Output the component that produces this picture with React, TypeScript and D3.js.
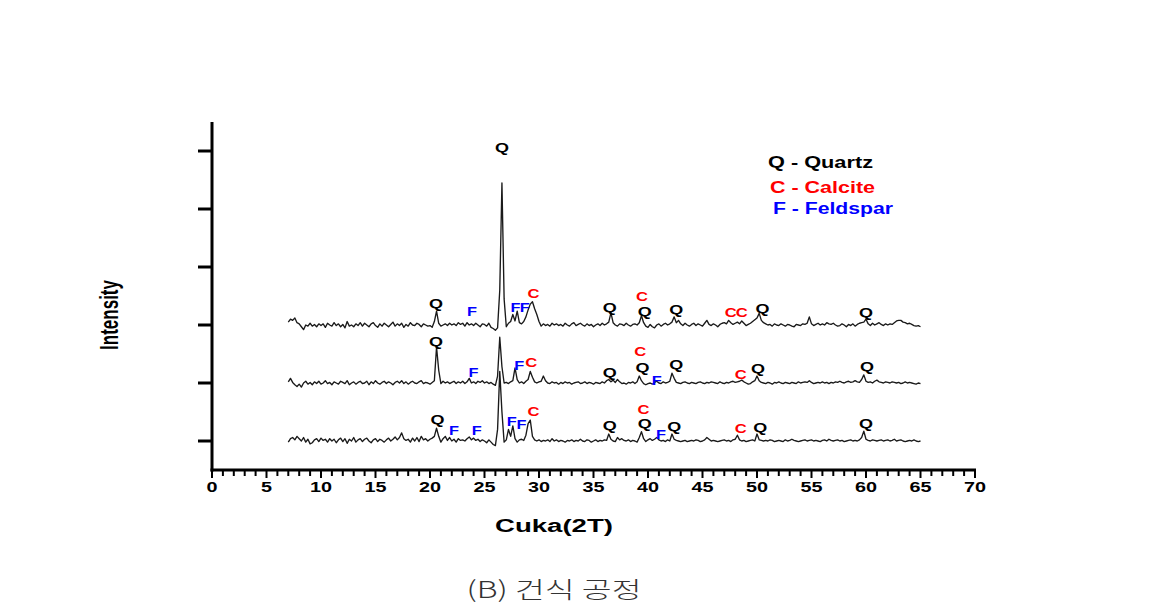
import React from 'react';
import * as d3 from 'd3';

// 2-theta scan: first angle and sampling step (degrees)
const SCAN_START = 7;
const SCAN_STEP = 0.2;

// intensities (arbitrary units, 100 = one y tick spacing), relative to each trace's baseline
const topTrace = [
  5,10,8,12,4, 2,-3,-8,0,-2, 3,-2,1,-3,2, -1,2,-4,3,0, -2,4,-1,2,-3,
  1,-5,6,-2,0, -3,2,-1,4,-2, 3,0,-3,2,4, -1,-4,2,-2,3, 0,-3,1,5,-2,
  2,-1,3,-4,1, -2,4,0,-1,3, 1,-3,2,0,-2, -1,-4,6,24,3, -2,0,2,-1,3,
  0,2,-1,4,1, 3,-2,4,0,2, -1,3,0,-3,2, 1,-2,3,-4,-6, -9,-5,60,245,45,
  -3,3,6,18,7, 24,4,2,6,14, 26,36,40,28,18, 6,-2,2,-1,1, -2,3,0,2,-1,
  1,-2,3,0,-2, 2,4,-1,1,3, 0,-2,2,-1,1, -3,0,2,-1,3, 0,2,5,21,4,
  0,-2,2,1,-1, 3,0,-2,1,2, 0,4,16,4,-2, -4,1,-3,-5,0, 2,-2,1,3,0,
  2,5,14,4,8, 2,-1,3,0,-2, 1,3,-1,2,0, -2,3,8,1,-1, 2,0,-3,1,3,
  4,2,8,4,1, 3,5,2,7,3, -1,1,3,6,9, 12,20,8,4,2, 0,1,-2,2,0,
  -1,2,0,-2,1, 0,-2,-3,1,0, -1,2,1,3,14, 2,-1,1,3,0, 2,0,4,2,1,
  3,0,-2,-1,2, 0,-3,1,-1,2, -2,1,3,4,5, 10,2,-1,3,0, 2,4,1,-1,2,
  0,2,1,4,7, 8,8,5,4,2, 3,1,-1,-2,-1, -3,
];
const midTrace = [
  2,8,1,-3,-6, -2,-7,0,3,-2, 1,-3,2,-1,3, -2,0,4,-1,1, -3,2,0,-2,3,
  1,-1,4,-3,0, 2,-2,1,3,-1, 0,3,-3,2,-1, 4,0,-2,1,3, -1,2,0,-3,1,
  3,0,4,-1,2, -2,1,3,0,-1, 2,4,-1,1,0, -2,1,4,62,22, -1,3,0,2,-1,
  1,3,-1,2,0, 3,-1,2,8,0, 2,-1,3,1,4, 0,2,-1,1,-2, -4,12,79,28,0,
  1,-1,2,4,26, 6,0,2,-1,3, 6,20,10,2,0, 2,3,12,4,0, -1,2,0,1,-2,
  1,-1,2,0,1, -2,0,1,2,-1, 0,2,-1,1,0, -2,1,0,-1,2, 0,4,6,2,5,
  1,6,2,-1,0, -2,1,0,2,-1, 2,12,4,-1,-3, -1,0,-2,1,3, 0,-1,2,0,1,
  3,17,8,1,0, -1,1,2,0,-1, 1,0,-1,1,2, 0,-1,1,0,2, 1,0,-1,2,0,
  -1,1,0,2,3, 1,2,3,5,2, 0,-2,-1,2,4, 12,4,1,0,-1, 1,0,-2,1,0,
  2,0,-1,1,0, -1,1,0,-1,2, 0,1,2,1,4, 1,-1,0,1,0, 2,0,1,-1,1,
  0,2,1,3,1, 0,2,3,1,2, 4,2,1,6,14, 3,1,2,0,3, 5,2,1,0,2,
  1,0,2,1,0, 1,-1,0,2,0, 1,0,-1,-2,0, -1,
];
const botTrace = [
  -2,4,6,2,8, 4,0,6,-2,3, -5,-3,2,4,-1, 5,1,3,-2,4, 0,3,-3,2,5,
  -1,4,-4,3,0, 6,-2,2,4,-1, 3,5,0,-3,2, 4,-1,3,1,-2, 2,5,0,3,7,
  2,6,14,4,1, 3,-2,5,0,6, -1,8,2,4,0, 3,5,8,22,8, -2,4,8,1,6,
  0,3,-2,4,1, 2,0,4,7,2, 5,1,3,-1,2, 0,-3,2,-2,-6, -8,20,120,50,-2,
  2,20,8,26,4, -2,2,3,1,10, 30,36,8,2,0, 2,-1,1,0,2, -1,4,0,2,-1,
  1,0,-2,1,0, 2,-1,1,0,3, 0,-1,2,1,-2, 0,2,-1,1,0, 2,1,12,3,0,
  -1,6,2,4,1, 0,2,-1,1,0, -2,6,16,4,-1, 2,4,1,3,6, 2,0,1,-1,2,
  0,12,3,1,0, -1,0,1,-1,0, 1,0,2,1,-1, 0,2,6,3,0, 1,0,-1,0,1,
  2,0,1,-1,2, 3,10,2,0,1, -1,0,1,2,0, 12,2,1,0,1, 0,2,1,-1,0,
  1,0,-1,2,0, 1,3,1,0,-1, 0,1,2,0,1, 2,0,1,0,-1, 1,2,0,3,1,
  0,1,2,0,1, -1,0,1,2,0, 1,0,2,6,17, 3,1,0,2,1, 0,1,2,0,1,
  2,0,1,3,0, 1,2,0,-1,0, 1,0,2,0,-1, 0,
];
const traces = [topTrace, midTrace, botTrace];
const traceOffsets = [250, 150, 50];

const xMinorTicks = d3.range(0, 71, 1);
const xMajorTicks = [0, 5, 10, 15, 20, 25, 30, 35, 40, 45, 50, 55, 60, 65, 70];
const yTicks = [50, 150, 250, 350, 450, 550];

// peak labels: [2theta, intensity position, phase]
const peakLabels: [number, number, string][] = [
  [26.6, 557, 'Q'],
  [20.55, 288, 'Q'], [23.85, 274, 'F'], [27.85, 281, 'F'], [28.7, 281, 'F'], [29.5, 305, 'C'],
  [36.5, 281, 'Q'], [39.45, 300, 'C'], [39.7, 274, 'Q'], [42.6, 278, 'Q'],
  [47.6, 272, 'C'], [48.6, 272, 'C'], [50.5, 279, 'Q'], [60.0, 272, 'Q'],
  [20.55, 222, 'Q'], [24.0, 169, 'F'], [28.2, 181, 'F'], [29.3, 186, 'C'],
  [36.5, 169, 'Q'], [39.3, 205, 'C'], [39.5, 178, 'Q'], [40.8, 155, 'F'],
  [42.6, 183, 'Q'], [48.5, 166, 'C'], [50.1, 176, 'Q'], [60.1, 179, 'Q'],
  [20.7, 88, 'Q'], [22.2, 69, 'F'], [24.3, 69, 'F'], [27.5, 84, 'F'], [28.4, 79, 'F'],
  [29.5, 102, 'C'], [36.5, 78, 'Q'], [39.6, 105, 'C'], [39.7, 80, 'Q'], [41.2, 62, 'F'],
  [42.4, 76, 'Q'], [48.5, 72, 'C'], [50.3, 74, 'Q'], [60.0, 81, 'Q'],
];

const legendItems = [
  { text: 'Q - Quartz', phase: 'Q' },
  { text: 'C - Calcite', phase: 'C' },
  { text: 'F - Feldspar', phase: 'F' },
];

const phaseColor: Record<string, string> = { Q: '#000000', C: '#ff0000', F: '#0000ff' };
const phaseWidth: Record<string, number> = { Q: 14, C: 12, F: 10 };

const FONT = '"Liberation Sans", Arial, sans-serif';

export default function App() {
  const W = 1174, H = 610;
  const x = d3.scaleLinear().domain([0, 70]).range([212, 975]);
  const y = d3.scaleLinear().domain([0, 600]).range([470, 122]);

  const paths = traces.map((tr, k) =>
    d3.line<number>()
      .x((_, i) => x(SCAN_START + SCAN_STEP * i))
      .y((d) => y(d + traceOffsets[k]))(tr) || ''
  );

  const legendX = [768, 770, 773];
  const legendY = [168, 193, 214];
  const legendLen = [105, 105, 120];

  return (
    <svg width={W} height={H} style={{ position: 'absolute', left: 0, top: 0, background: '#fff' }}
      fontFamily={FONT}>
      <rect x={0} y={0} width={W} height={H} fill="#fff" />
      {paths.map((p, i) => (
        <path key={i} d={p} fill="none" stroke="#1a1a1a" strokeWidth={1.35} strokeLinejoin="round" />
      ))}
      {/* axes */}
      <line x1={x(0)} x2={x(0)} y1={y(600)} y2={y(0) + 1.5} stroke="#000" strokeWidth={3} />
      <line x1={x(0) - 1.5} x2={x(70) + 1} y1={y(0)} y2={y(0)} stroke="#000" strokeWidth={3} />
      {yTicks.map((t) => (
        <line key={t} x1={x(0) - 14} x2={x(0)} y1={y(t)} y2={y(t)} stroke="#000" strokeWidth={3} />
      ))}
      {xMinorTicks.map((t) => (
        <line key={t} x1={x(t)} x2={x(t)} y1={y(0)} y2={y(0) + (t % 5 === 0 ? 8 : 6)}
          stroke="#000" strokeWidth={2} />
      ))}
      {xMajorTicks.map((t) => {
        const s = String(t);
        return (
          <text key={t} x={x(t)} y={492} textAnchor="middle" fontSize={15} fontWeight="bold"
            textLength={11 * s.length} lengthAdjust="spacingAndGlyphs">{s}</text>
        );
      })}
      <text x={554} y={532} textAnchor="middle" fontSize={18} fontWeight="bold"
        textLength={118} lengthAdjust="spacingAndGlyphs">Cuka(2T)</text>
      <text transform="translate(118,315) rotate(-90)" textAnchor="middle" fontSize={26}
        fontWeight="bold" textLength={70} lengthAdjust="spacingAndGlyphs">Intensity</text>
      {/* peak labels */}
      {peakLabels.map(([px, py, ph], i) => (
        <text key={i} x={x(px)} y={y(py)} dy="0.36em" textAnchor="middle" fontSize={13.5}
          fontWeight="bold" fill={phaseColor[ph]} textLength={phaseWidth[ph]}
          lengthAdjust="spacingAndGlyphs">{ph}</text>
      ))}
      {/* legend */}
      {legendItems.map((it, i) => (
        <text key={i} x={legendX[i]} y={legendY[i]} fontSize={16} fontWeight="bold"
          fill={phaseColor[it.phase]} textLength={legendLen[i]} lengthAdjust="spacingAndGlyphs">{it.text}</text>
      ))}
      <text x={554} y={598} textAnchor="middle" fontSize={23} fill="#333"
        fontFamily='"Noto Sans CJK KR", "Noto Sans", sans-serif' fontWeight={300}
        textLength={175} lengthAdjust="spacingAndGlyphs">(B) 건식 공정</text>
    </svg>
  );
}
